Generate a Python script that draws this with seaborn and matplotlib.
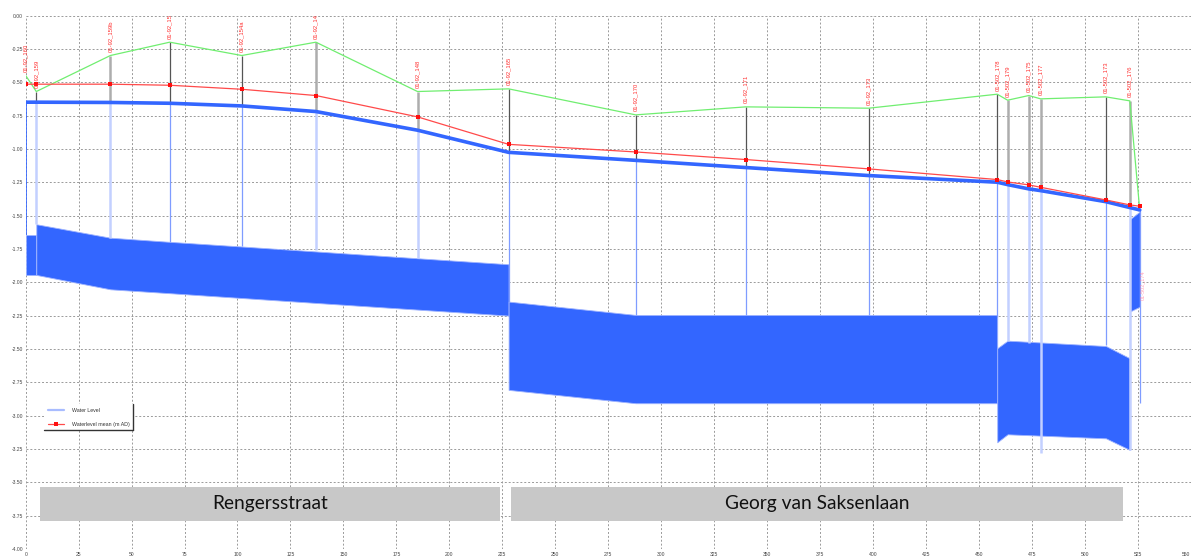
import numpy as np
import pandas as pd
import matplotlib
matplotlib.use("Agg")
import matplotlib.pyplot as plt
from matplotlib.lines import Line2D
from matplotlib.patches import Rectangle
from matplotlib.transforms import IdentityTransform
import seaborn as sns

# ---- node data (chainage in m, levels in m AD) ----
node_names = ["01-92_160", "01-92_159", "01-92_159b", "01-92_15", "01-92_154a", "01-92_14",
              "01-92_148", "01-92_165", "01-92_170", "01-92_171", "01-92_173",
              "01-502_178", "01-502_179", "01-502_175", "01-502_177", "01-502_173",
              "01-502_176", "01-502_174"]
chainage = [0, 5, 40, 68, 102, 137, 185, 228, 288, 340, 398,
            458.7, 463.6, 473.6, 479.2, 510, 521.3, 526]
ground_level = [-0.45, -0.57, -0.30, -0.20, -0.30, -0.20, -0.57, -0.55, -0.745, -0.685, -0.695,
                -0.59, -0.635, -0.60, -0.625, -0.61, -0.64, -1.46]
mean_level = [-0.515, -0.515, -0.515, -0.523, -0.553, -0.60, -0.76, -0.966, -1.023, -1.08, -1.15,
              -1.23, -1.248, -1.27, -1.288, -1.383, -1.42, -1.43]
water_level = [-0.65, -0.65, -0.652, -0.658, -0.678, -0.72, -0.86, -1.026, -1.086, -1.14, -1.20,
               -1.25, -1.268, -1.30, -1.313, -1.396, -1.44, -1.458]
chamber_bottom = [-1.646, -1.565, -1.666, -1.70, -1.725, -1.76, -1.815, -2.145, -2.245, -2.245, -2.245,
                  -2.258, -2.44, -2.455, -3.28, -2.47, -3.26, -2.907]
node_style = ["edge", "mixed", "light", "dark", "dark", "light", "light", "dark", "dark", "dark", "dark",
              "dark", "light", "light", "light", "dark", "light", "end"]

# ---- conduits (crown / invert) ----
pipe1_x = [0, 5]
pipe1_crown = [-1.646, -1.646]
pipe1_invert = [-1.945, -1.945]
pipe2_x = [5, 40, 68, 102, 137, 185, 228]
pipe2_crown = [-1.565, -1.666, -1.697, -1.732, -1.769, -1.82, -1.865]
pipe2_invert = [-1.945, -2.053, -2.082, -2.118, -2.155, -2.205, -2.25]
pipe3_x = [228, 288, 458.7]
pipe3_crown = [-2.145, -2.245, -2.245]
pipe3_invert = [-2.807, -2.907, -2.907]
pipe4_x = [458.7, 463.6, 510, 521.3]
pipe4_crown = [-2.495, -2.438, -2.478, -2.57]
pipe4_invert = [-3.20, -3.14, -3.17, -3.257]
pipe5_x = [521.3, 526]
pipe5_crown = [-1.528, -1.47]
pipe5_invert = [-2.22, -2.183]

# ---- street sections ----
street_names = ["Rengersstraat", "Georg van Saksenlaan"]
street_start = [6.75, 229.1]
street_end = [224.0, 518.0]
street_top = -3.537
street_bottom = -3.787

x_ticks = list(range(0, 551, 25))
y_ticks = [-4.0 + 0.25 * i for i in range(17)]

sns.set_style("white")
plt.rcParams["axes.unicode_minus"] = False
plt.rcParams["font.family"] = ["Liberation Sans", "DejaVu Sans"]

W, H = 1192, 558
fig = plt.figure(figsize=(W / 100, H / 100), dpi=100)
ax = fig.add_axes([25.7 / W, 1 - 549 / H, (1190.6 - 25.7) / W, (549 - 15.5) / H])
ax.set_xlim(0, 550)
ax.set_ylim(-4.0, 0.0)
ax.set_xticks(x_ticks)
ax.set_yticks(y_ticks)
ax.set_xticklabels([str(t) for t in x_ticks])
ax.set_yticklabels([f"{t:.2f}" for t in y_ticks])
ax.tick_params(length=0, labelsize=3.6, labelcolor="#444444", pad=2)
ax.get_xticklabels()[-1].set_horizontalalignment("right")
for s in ax.spines.values():
    s.set_visible(False)
ax.grid(True, color="#9a9a9a", linestyle=(0, (2, 2)), linewidth=0.7)
ax.set_axisbelow(True)

# conduits
BLUE = "#3366ff"
for px, pc, pi in [(pipe1_x, pipe1_crown, pipe1_invert), (pipe2_x, pipe2_crown, pipe2_invert),
                   (pipe3_x, pipe3_crown, pipe3_invert), (pipe4_x, pipe4_crown, pipe4_invert),
                   (pipe5_x, pipe5_crown, pipe5_invert)]:
    ax.fill_between(px, pc, pi, color=BLUE, linewidth=0.6, edgecolor="#9fb4ff", zorder=2)

# manhole verticals
for x, g, w, b, st in zip(chainage, ground_level, water_level, chamber_bottom, node_style):
    if st == "light":
        ax.vlines(x, w, g, color="#adadad", lw=1.8, zorder=3)
        ax.vlines(x, b, w, color="#c3d0ff", lw=1.8, zorder=3)
    elif st == "dark":
        ax.vlines(x, w, g, color="#555555", lw=0.9, zorder=3)
        ax.vlines(x, b, w, color="#7f9cff", lw=0.9, zorder=3)
    elif st == "mixed":
        ax.vlines(x, w, g, color="#555555", lw=0.9, zorder=3)
        ax.vlines(x, b, w, color="#c3d0ff", lw=1.8, zorder=3)
    elif st == "edge":
        ax.vlines(x, b, w, color=BLUE, lw=1.2, zorder=3)
    else:
        ax.vlines(x, b, w, color="#7f9cff", lw=0.9, zorder=3)

levels = pd.DataFrame({"chainage": chainage, "ground": ground_level,
                       "mean": mean_level, "water": water_level})
sns.lineplot(data=levels, x="chainage", y="ground", color="#70ee70", lw=0.9, sort=False, ax=ax, zorder=4)
sns.lineplot(data=levels, x="chainage", y="water", color=BLUE, lw=2.6, sort=False, ax=ax, zorder=5)
sns.lineplot(data=levels, x="chainage", y="mean", color="#ff4a4a", lw=0.9, sort=False, ax=ax, zorder=6,
             marker="s", markersize=3, markeredgewidth=0, markerfacecolor="#ff1010")
ax.set_xlabel("")
ax.set_ylabel("")

# node labels
for name, x, g, st in zip(node_names, chainage, ground_level, node_style):
    if st == "end":
        ax.text(x + 1.5, -2.02, name, rotation=90, ha="center", va="center",
                fontsize=4.0, color="#ff7a9a", alpha=0.7, zorder=7)
    else:
        ax.annotate(name, (x, g), xytext=(0, 2.5), textcoords="offset points", rotation=90,
                    ha="center", va="bottom", fontsize=4.2, color="#ff2f2f", zorder=7)

# street sections
for name, x0, x1 in zip(street_names, street_start, street_end):
    ax.add_patch(Rectangle((x0, street_bottom), x1 - x0, street_top - street_bottom,
                           facecolor="#c8c8c8", edgecolor="none", zorder=2))
    ax.text((x0 + x1) / 2, (street_top + street_bottom) / 2, name, ha="center", va="center",
            fontsize=13.8, family=["Lato", "DejaVu Sans"], color="#111111", zorder=3)

# legend
handles = [Line2D([], [], color="#a8bcff", lw=1.6),
           Line2D([], [], color="#ff4a4a", lw=0.9, marker="s", markersize=2.5,
                  markerfacecolor="#ff1010", markeredgewidth=0)]
leg = ax.legend(handles, ["Water Level", "Waterlevel mean (m AD)"], loc="upper left",
                bbox_to_anchor=(0.0157, 0.272), borderaxespad=0, fontsize=3.8,
                handlelength=3.0, handletextpad=1.6, labelspacing=1.7, borderpad=0.7,
                frameon=True, fancybox=False, facecolor="white", edgecolor="none", framealpha=1)
for t in leg.get_texts():
    t.set_color("#333333")
fig.canvas.draw()
bb = leg.get_window_extent()
fig.add_artist(Line2D([bb.x1, bb.x1], [bb.y0, bb.y1], color="#333333", lw=1.0,
                      transform=IdentityTransform()))
fig.add_artist(Line2D([bb.x0, bb.x1], [bb.y0, bb.y0], color="#333333", lw=1.0,
                      transform=IdentityTransform()))

fig.savefig("out.png", dpi=100)
